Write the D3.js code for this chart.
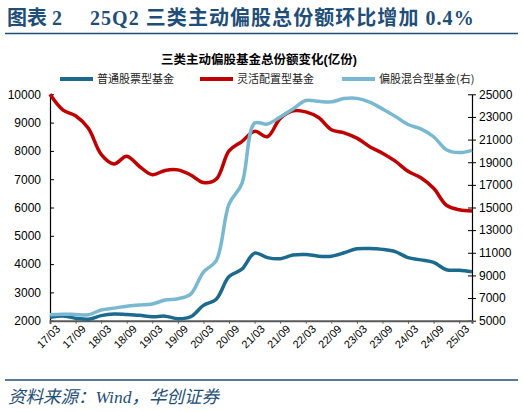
<!DOCTYPE html>
<html>
<head>
<meta charset="utf-8">
<script src="https://cdn.jsdelivr.net/npm/d3@7"></script>
<style>
  body { margin: 0; background: #fff; }
  svg { display: block; }
</style>
</head>
<body>
<svg id="chart" width="523" height="412"></svg>
<script>
// données trimestrielles 17/03 -> 25/06
const quarters = ["17/03","17/06","17/09","17/12","18/03","18/06","18/09","18/12",
  "19/03","19/06","19/09","19/12","20/03","20/06","20/09","20/12",
  "21/03","21/06","21/09","21/12","22/03","22/06","22/09","22/12",
  "23/03","23/06","23/09","23/12","24/03","24/06","24/09","24/12",
  "25/03","25/06"];
const tickLabels = ["17/03","17/09","18/03","18/09","19/03","19/09","20/03","20/09",
  "21/03","21/09","22/03","22/09","23/03","23/09","24/03","24/09","25/03"];

// 普通股票型基金 (axe gauche)
const stockFund = [2120,2170,2090,2050,2180,2240,2220,2190,2140,2160,2070,2140,
  2540,2760,3560,3820,4390,4230,4190,4320,4340,4280,4280,4400,
  4540,4550,4520,4440,4230,4150,4060,3800,3780,3730];
// 灵活配置型基金 (axe gauche)
const flexFund = [10000,9450,9240,8800,7880,7540,7810,7450,7160,7310,7330,7150,
  6880,7000,8000,8330,8690,8500,9150,9420,9380,9180,8750,8640,
  8450,8150,7920,7640,7280,7050,6680,6080,5920,5880];
// 偏股混合型基金 (axe droit)
const mixedFund = [5530,5580,5550,5520,5950,6110,6280,6380,6470,6830,6940,7350,
  9300,10300,15300,17100,22450,22370,23000,23700,24450,24380,24330,24620,
  24640,24300,23700,23050,22330,21950,21250,20100,19850,20050];

const leftTicks = [2000,3000,4000,5000,6000,7000,8000,9000,10000];
const rightTicks = [5000,7000,9000,11000,13000,15000,17000,19000,21000,23000,25000];

const svg = d3.select("#chart");
const navy = "#1F4E79";
const cjk = "'Noto Sans CJK SC', sans-serif";
const serifCjk = "'Liberation Serif', 'Noto Sans CJK SC', serif";

// Titre du graphique
const title = svg.append("text")
    .attr("y", 25)
    .attr("fill", navy)
    .style("font-family", serifCjk)
    .style("font-weight", "bold")
    .style("font-size", "20px");
title.append("tspan").attr("x", 7).text("图表 2");
title.append("tspan").attr("x", 90).style("letter-spacing", "1.05px")
    .text("25Q2 三类主动偏股总份额环比增加 0.4%");

svg.append("line")
    .attr("x1", 5).attr("x2", 518).attr("y1", 33.5).attr("y2", 33.5)
    .attr("stroke", navy).attr("stroke-width", 1.5);

svg.append("text")
    .attr("x", 259).attr("y", 64)
    .attr("text-anchor", "middle")
    .style("font-family", "'Liberation Sans', " + cjk)
    .style("font-weight", "bold")
    .style("font-size", "12.5px")
    .text("三类主动偏股基金总份额变化(亿份)");

// Dimensions de la zone de tracé
const plotLeft = 50, plotRight = 472, plotTop = 94.3, plotBottom = 320.7;

const x = d3.scaleLinear().domain([0, quarters.length - 1]).range([plotLeft, plotRight]);
const yL = d3.scaleLinear().domain([2000, 10000]).range([plotBottom, plotTop]);
const yR = d3.scaleLinear().domain([5000, 25000]).range([plotBottom, plotTop]);

// Séries
const series = [
  { name: "普通股票型基金", values: stockFund, scale: yL, color: "#1D6A8F" },
  { name: "灵活配置型基金", values: flexFund, scale: yL, color: "#C00000" },
  { name: "偏股混合型基金(右)", values: mixedFund, scale: yR, color: "#78B8D0" }
];

// Axes
const axisFont = "'Liberation Sans', Arial, sans-serif";

const gL = svg.append("g").attr("transform", `translate(${plotLeft},0)`)
    .call(d3.axisLeft(yL).tickValues(leftTicks).tickSize(0).tickPadding(9).tickFormat(d3.format("d")));
gL.select(".domain").attr("stroke", "#000").attr("stroke-width", 1.2);
gL.selectAll(".tick line").remove();
gL.selectAll(".tick").append("line").attr("x1", 0).attr("x2", 4).attr("stroke", "#000");

const gR = svg.append("g").attr("transform", `translate(${plotRight},0)`)
    .call(d3.axisRight(yR).tickValues(rightTicks).tickSize(0).tickPadding(7).tickFormat(d3.format("d")));
gR.select(".domain").attr("stroke", "#000").attr("stroke-width", 1.2);
gR.selectAll(".tick line").remove();
gR.selectAll(".tick").append("line").attr("x1", -4).attr("x2", 4).attr("stroke", "#000");

[gL, gR].forEach(g => g.selectAll("text")
    .style("font-family", axisFont).style("font-size", "12px").attr("fill", "#000"));

const tickIdx = tickLabels.map(t => quarters.indexOf(t));
const gX = svg.append("g").attr("transform", `translate(0,${plotBottom})`)
    .call(d3.axisBottom(x).tickValues(tickIdx).tickSize(3).tickFormat(i => quarters[i]));
gX.select(".domain").attr("stroke", "#595959").attr("stroke-width", 2);
gX.selectAll(".tick line").attr("stroke", "#595959");
gX.selectAll("text")
    .style("font-family", axisFont).style("font-size", "11px").attr("fill", "#000")
    .style("text-anchor", "end")
    .attr("dx", "0.1em").attr("dy", "0.7em")
    .attr("transform", "rotate(-45)");

// Courbes lissées
series.forEach(s => {
  const line = d3.line()
      .x((d, i) => x(i))
      .y(d => s.scale(d))
      .curve(d3.curveCatmullRom.alpha(0.5));
  svg.append("path")
      .datum(s.values)
      .attr("fill", "none")
      .attr("stroke", s.color)
      .attr("stroke-width", 3.5)
      .attr("stroke-linejoin", "round")
      .attr("d", line);
});

// Légende
const legendX = [60, 200, 342];
const legend = svg.selectAll(".legend")
    .data(series)
    .enter().append("g")
    .attr("class", "legend")
    .attr("transform", (d, i) => `translate(${legendX[i]},79)`);

legend.append("line")
    .attr("x1", 0).attr("x2", 33)
    .attr("stroke", d => d.color)
    .attr("stroke-width", 4);

legend.append("text")
    .attr("x", 37).attr("y", 0)
    .attr("dy", "0.35em")
    .style("font-family", cjk)
    .style("font-size", "11px")
    .attr("fill", "#222")
    .text(d => d.name);

// Source
svg.append("line")
    .attr("x1", 5).attr("x2", 518).attr("y1", 380).attr("y2", 380)
    .attr("stroke", navy).attr("stroke-width", 1.5);

svg.append("text")
    .attr("x", 8).attr("y", 403)
    .attr("fill", navy)
    .style("font-family", serifCjk)
    .style("font-style", "italic")
    .style("font-size", "17.5px")
    .text("资料来源：Wind，华创证券");
</script>
</body>
</html>
